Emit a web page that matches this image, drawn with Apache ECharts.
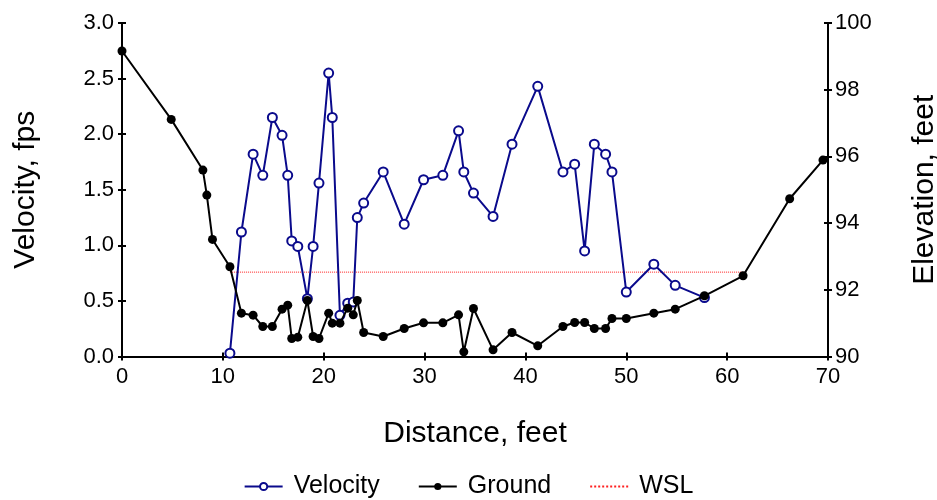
<!DOCTYPE html>
<html>
<head>
<meta charset="utf-8">
<script src="https://cdn.jsdelivr.net/npm/echarts@6/dist/echarts.min.js"></script>
<style>html,body{margin:0;padding:0;background:#fff;}#c{width:937px;height:500px;}</style>
</head>
<body>
<div id="c"></div>
<script>
const velDistance = [10.7, 11.84, 13.0, 13.96, 14.91, 15.87, 16.43, 16.83, 17.43, 18.38, 18.95, 19.53, 20.49, 20.85, 21.61, 22.38, 22.93, 23.33, 23.96, 25.9, 27.98, 29.9, 31.81, 33.37, 33.89, 34.85, 36.79, 38.67, 41.22, 43.72, 44.88, 45.87, 46.83, 47.95, 48.58, 50.0, 52.73, 54.85, 57.75];
const velocity = [0.03, 1.12, 1.82, 1.63, 2.15, 1.99, 1.63, 1.04, 0.99, 0.52, 0.99, 1.56, 2.55, 2.15, 0.37, 0.48, 0.49, 1.25, 1.38, 1.66, 1.19, 1.59, 1.63, 2.03, 1.66, 1.47, 1.26, 1.91, 2.43, 1.66, 1.73, 0.95, 1.91, 1.82, 1.66, 0.58, 0.83, 0.64, 0.53];
const groundDistance = [0, 4.88, 8.02, 8.41, 8.97, 10.7, 11.84, 13.0, 13.96, 14.91, 15.87, 16.43, 16.83, 17.43, 18.38, 18.95, 19.53, 20.49, 20.85, 21.61, 22.38, 22.93, 23.33, 23.96, 25.9, 27.98, 29.9, 31.81, 33.37, 33.89, 34.85, 36.79, 38.67, 41.22, 43.72, 44.88, 45.87, 46.83, 47.95, 48.58, 50.0, 52.73, 54.85, 57.75, 61.58, 66.2, 69.5];
const groundElev = [99.16, 97.11, 95.59, 94.84, 93.51, 92.69, 91.30, 91.24, 90.90, 90.90, 91.42, 91.54, 90.54, 90.58, 91.68, 90.60, 90.54, 91.30, 91.0, 91.0, 91.45, 91.25, 91.68, 90.72, 90.60, 90.84, 91.01, 91.01, 91.25, 90.14, 91.44, 90.20, 90.72, 90.32, 90.90, 91.02, 91.02, 90.84, 90.84, 91.14, 91.14, 91.30, 91.42, 91.82, 92.42, 94.73, 95.89];
const wslDistance = [10.7, 61.58];
const wslElev = [92.53, 92.53];
const xTicks = {min: 0, max: 70, interval: 10};
const velTicks = {min: 0, max: 3, interval: 0.5};
const elevTicks = {min: 90, max: 100, interval: 2};

const zip = (a, b) => a.map((v, i) => [v, b[i]]);
const FONT = 'Liberation Sans';
const chart = echarts.init(document.getElementById('c'), null, {renderer: 'canvas'});

const tickStyle = {color: '#000', width: 2};
const makeX = (inside) => ({
  type: 'value', position: 'bottom', min: xTicks.min, max: xTicks.max, interval: xTicks.interval,
  axisLine: {show: !inside, onZero: false, lineStyle: tickStyle},
  axisTick: {show: true, inside: inside, length: 4, lineStyle: tickStyle},
  axisLabel: {show: !inside, margin: 9, fontFamily: FONT, fontSize: 22, color: '#000'},
  splitLine: {show: false}
});
const makeY = (pos, t, inside) => ({
  type: 'value', position: pos, min: t.min, max: t.max, interval: t.interval,
  axisLine: {show: !inside, onZero: false, lineStyle: tickStyle},
  axisTick: {show: true, inside: inside, length: 4, lineStyle: tickStyle},
  axisLabel: {show: !inside, margin: 8, fontFamily: FONT, fontSize: 22, color: '#000'},
  splitLine: {show: false}
});

const yVel = makeY('left', velTicks, false);
yVel.name = 'Velocity, fps';
yVel.nameLocation = 'middle'; yVel.nameGap = 81; yVel.nameRotate = 90;
yVel.nameTextStyle = {fontFamily: FONT, fontSize: 30, color: '#000'};
yVel.axisLabel.formatter = v => v.toFixed(1);

const yElev = makeY('right', elevTicks, false);
yElev.name = 'Elevation, feet';
yElev.nameLocation = 'middle'; yElev.nameGap = 82; yElev.nameRotate = 90;
yElev.nameTextStyle = {fontFamily: FONT, fontSize: 30, color: '#000'};
yElev.axisLabel.margin = 7;

const xMain = makeX(false);
xMain.name = 'Distance, feet';
xMain.nameLocation = 'middle'; xMain.nameGap = 62;
xMain.nameTextStyle = {fontFamily: FONT, fontSize: 30, color: '#000'};

const option = {
  animation: false,
  backgroundColor: '#fff',
  textStyle: {fontFamily: FONT},
  grid: {left: 122, right: 109, top: 23, bottom: 143.5, containLabel: false, outerBoundsMode: 'none'},
  legend: {
    top: 469, left: 'center',
    itemWidth: 38, itemHeight: 9, itemGap: 38,
    textStyle: {fontFamily: FONT, fontSize: 25, color: '#000', padding: [0, 0, 0, 6]},
    data: ['Velocity', 'Ground', {name: 'WSL', itemStyle: {opacity: 0}}]
  },
  xAxis: [xMain, makeX(true)],
  yAxis: [yVel, yElev, makeY('left', velTicks, true), makeY('right', elevTicks, true)],
  series: [
    {
      name: 'WSL', type: 'line', xAxisIndex: 0, yAxisIndex: 1,
      data: zip(wslDistance, wslElev),
      showSymbol: false, symbol: 'none',
      lineStyle: {color: '#ff2020', width: 1, type: 'dotted'},
      itemStyle: {color: '#ff2020'},
      z: 1
    },
    {
      name: 'Velocity', type: 'line', xAxisIndex: 0, yAxisIndex: 0,
      data: zip(velDistance, velocity),
      symbol: 'emptyCircle', symbolSize: 9,
      lineStyle: {color: '#0a0a8c', width: 2},
      itemStyle: {color: '#0a0a8c', borderColor: '#0a0a8c', borderWidth: 1.6},
      z: 2
    },
    {
      name: 'Ground', type: 'line', xAxisIndex: 0, yAxisIndex: 1,
      data: zip(groundDistance, groundElev),
      symbol: 'circle', symbolSize: 9,
      lineStyle: {color: '#000', width: 2},
      itemStyle: {color: '#000'},
      z: 3
    }
  ]
};
chart.setOption(option);
</script>
</body>
</html>
